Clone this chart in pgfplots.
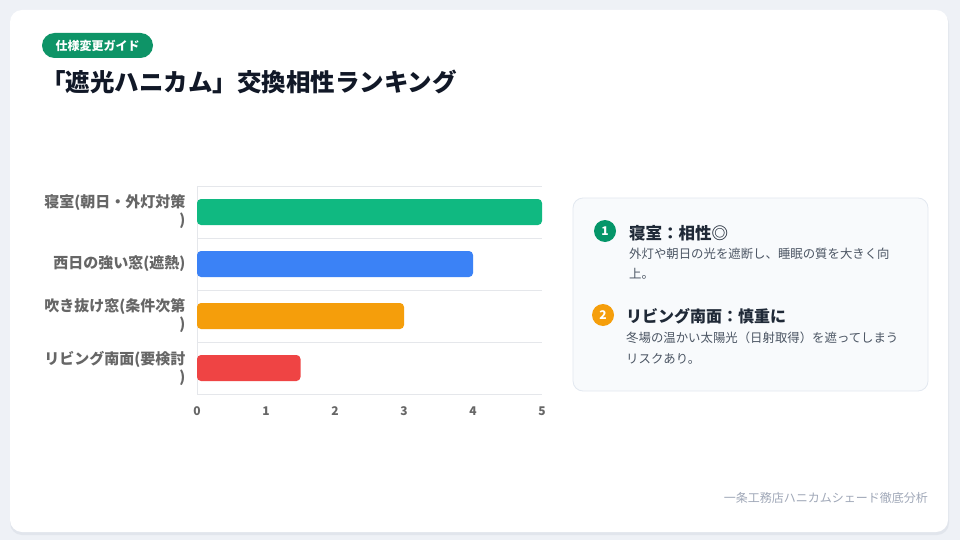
\documentclass[border=0pt]{standalone}
\usepackage{fontspec}
\setmainfont{Noto Sans CJK JP}
\usepackage{pgfplots}
\pgfplotsset{compat=1.18}
\definecolor{bgc}{HTML}{EEF1F6}
\definecolor{shadowc}{HTML}{E1E5EC}
\definecolor{badgec}{HTML}{0E9467}
\definecolor{titlec}{HTML}{111827}
\definecolor{cgreen}{HTML}{10B981}
\definecolor{cblue}{HTML}{3B82F6}
\definecolor{corange}{HTML}{F59E0B}
\definecolor{cred}{HTML}{EF4444}
\definecolor{gridc}{HTML}{E5E7EB}
\definecolor{labelc}{HTML}{666666}
\definecolor{panelc}{HTML}{F8FAFC}
\definecolor{panelb}{HTML}{E2E8F0}
\definecolor{headc}{HTML}{1F2937}
\definecolor{descc}{HTML}{4B5563}
\definecolor{footc}{HTML}{A0A8B8}
\definecolor{circg}{HTML}{059669}
\begin{document}
\begin{tikzpicture}[x=1pt,y=1pt]
% background
\fill[bgc] (0,0) rectangle (960,-540);
\fill[shadowc, rounded corners=12pt] (10,-12) rectangle (949,-535);
\fill[white, rounded corners=12pt] (10,-10) rectangle (948,-532);
% badge
\fill[badgec, rounded corners=12.5pt] (42,-33) rectangle (153,-58);
\node[text=white, font=\fontsize{12}{14}\selectfont\bfseries] at (97.5,-45.5) {仕様変更ガイド};
% title
\node[anchor=west, inner sep=0pt, text=titlec, font=\fontsize{24.5}{28}\selectfont\bfseries] at (41,-82) {「遮光ハニカム」交換相性ランキング};
% chart
\begin{axis}[
  at={(197pt,-394pt)}, anchor=south west,
  scale only axis, width=345pt, height=208pt,
  xmin=0, xmax=5, ymin=-0.5, ymax=3.5,
  xbar, bar width=26pt, bar shift=0pt,
  xtick={0,1,2,3,4,5},
  ytick={0,1,2,3},
  yticklabels={{リビング南面(要検討\\)},{吹き抜け窓(条件次第\\)},{西日の強い窓(遮熱)},{寝室(朝日・外灯対策\\)}},
  minor ytick={-0.5,0.5,1.5,2.5,3.5},
  yminorgrids,
  minor grid style={draw=gridc, line width=0.8pt},
  major tick length=0pt, minor tick length=0pt,
  axis x line*=bottom, axis y line*=left,
  axis line style={draw=gridc, line width=0.8pt, -},
  /pgf/number format/assume math mode=true,
  yticklabel style={align=right, text=labelc, font=\fontsize{15}{18}\selectfont\bfseries, xshift=-8pt},
  xticklabel style={text=labelc, font=\fontsize{12}{14}\selectfont\bfseries, yshift=-9pt},
  every axis plot/.append style={draw=none, rounded corners=4pt},
]
\addplot[fill=cgreen] coordinates {(5,3)};
\addplot[fill=cblue] coordinates {(4,2)};
\addplot[fill=corange] coordinates {(3,1)};
\addplot[fill=cred] coordinates {(1.5,0)};
\end{axis}
% right panel
\filldraw[fill=panelc, draw=panelb, line width=0.8pt, rounded corners=10pt] (573,-198) rectangle (928,-391);
\fill[circg] (605,-231) circle (11);
\node[text=white, font=\fontsize{12}{14}\selectfont\bfseries] at (605,-231) {1};
\node[anchor=west, inner sep=0pt, text=headc, font=\fontsize{16.5}{20}\selectfont\bfseries] at (629,-233) {寝室：相性◎};
\node[anchor=north west, inner sep=0pt, align=left, text=descc, font=\fontsize{12.4}{20}\selectfont] at (629,-248) {外灯や朝日の光を遮断し、睡眠の質を大きく向\\上。};
\fill[corange] (603,-315) circle (11);
\node[text=white, font=\fontsize{12}{14}\selectfont\bfseries] at (603,-315) {2};
\node[anchor=west, inner sep=0pt, text=headc, font=\fontsize{16}{20}\selectfont\bfseries] at (626,-316) {リビング南面：慎重に};
\node[anchor=north west, inner sep=0pt, align=left, text=descc, font=\fontsize{12.4}{21}\selectfont] at (626,-332) {冬場の温かい太陽光（日射取得）を遮ってしまう\\リスクあり。};
% footer
\node[anchor=east, inner sep=0pt, text=footc, font=\fontsize{12}{14}\selectfont] at (928,-498) {一条工務店ハニカムシェード徹底分析};
\end{tikzpicture}
\end{document}
